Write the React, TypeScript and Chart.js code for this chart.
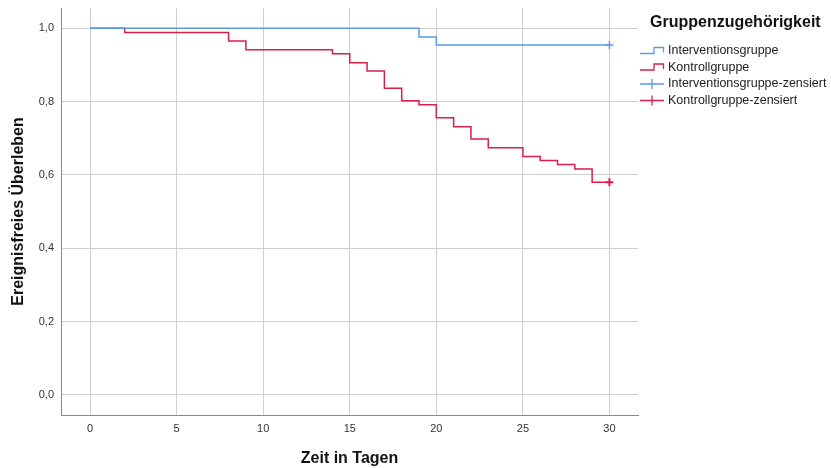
import React, { useEffect, useRef } from 'react';
import { Chart, registerables } from 'chart.js';

Chart.register(...registerables);

// ---- data ----
const kontrollDays = [0, 2, 8, 9, 14, 15, 16, 17, 18, 19, 20, 21, 22, 23, 25, 26, 27, 28, 29, 30];
const kontrollSurv = [1.0, 0.988, 0.965, 0.941, 0.93, 0.906, 0.883, 0.836, 0.802, 0.791, 0.756, 0.731, 0.698, 0.674, 0.65, 0.639, 0.628, 0.616, 0.58, 0.58];
const interventionDays = [0, 19, 20, 30];
const interventionSurv = [1.0, 0.976, 0.954, 0.954];
const censoredInterventionDays = [30];
const censoredInterventionSurv = [0.954];
const censoredKontrollDays = [30];
const censoredKontrollSurv = [0.58];
const xTickValues = [0, 5, 10, 15, 20, 25, 30];
const yTickValues = [0, 0.2, 0.4, 0.6, 0.8, 1.0];
const legendTitle = 'Gruppenzugehörigkeit';
const legendLabels = ['Interventionsgruppe', 'Kontrollgruppe', 'Interventionsgruppe-zensiert', 'Kontrollgruppe-zensiert'];
const xTitle = 'Zeit in Tagen';
const yTitle = 'Ereignisfreies Überleben';

const BLUE = '#5b9be6';
const RED = '#d81f4a';
const FONT = '"Liberation Sans", Arial, Helvetica, sans-serif';

const toPoints = (xs: number[], ys: number[]) => xs.map((x, i) => ({ x, y: ys[i] }));

const legendPlugin = {
  id: 'kmLegend',
  afterDraw(chart: any) {
    const ctx: CanvasRenderingContext2D = chart.ctx;
    const x0 = chart.chartArea.right + 2;
    ctx.save();
    ctx.fillStyle = '#111';
    ctx.textAlign = 'left';
    ctx.textBaseline = 'middle';
    ctx.font = `bold 16px ${FONT}`;
    ctx.fillText(legendTitle, x0 + 10, 23);

    const rows = [51, 67.5, 84, 100.5];
    const colors = [BLUE, RED, BLUE, RED];
    ctx.font = `12.5px ${FONT}`;
    legendLabels.forEach((lab, i) => {
      const y = rows[i];
      ctx.strokeStyle = colors[i];
      ctx.lineWidth = 1.3;
      ctx.beginPath();
      if (i < 2) {
        ctx.moveTo(x0, y + 2.5);
        ctx.lineTo(x0 + 14, y + 2.5);
        ctx.lineTo(x0 + 14, y - 3.5);
        ctx.lineTo(x0 + 23.5, y - 3.5);
        ctx.lineTo(x0 + 23.5, y + 1.5);
      } else {
        ctx.moveTo(x0, y);
        ctx.lineTo(x0 + 24, y);
        ctx.moveTo(x0 + 12, y - 5);
        ctx.lineTo(x0 + 12, y + 5);
      }
      ctx.stroke();
      ctx.fillStyle = '#222';
      ctx.fillText(lab, x0 + 28, y);
    });
    ctx.restore();
  },
};

export default function App() {
  const ref = useRef<HTMLCanvasElement | null>(null);

  useEffect(() => {
    if (!ref.current) return;
    const chart = new Chart(ref.current, {
      type: 'scatter',
      data: {
        datasets: [
          {
            label: legendLabels[0],
            data: toPoints(interventionDays, interventionSurv),
            showLine: true,
            stepped: 'before',
            borderColor: BLUE,
            borderWidth: 1.5,
            pointRadius: 0,
            fill: false,
          },
          {
            label: legendLabels[1],
            data: toPoints(kontrollDays, kontrollSurv),
            showLine: true,
            stepped: 'before',
            borderColor: RED,
            borderWidth: 1.5,
            pointRadius: 0,
            fill: false,
          },
          {
            label: legendLabels[2],
            data: toPoints(censoredInterventionDays, censoredInterventionSurv),
            showLine: false,
            pointStyle: 'cross',
            pointRadius: 4,
            borderColor: BLUE,
            backgroundColor: BLUE,
            pointBorderWidth: 1.5,
          },
          {
            label: legendLabels[3],
            data: toPoints(censoredKontrollDays, censoredKontrollSurv),
            showLine: false,
            pointStyle: 'cross',
            pointRadius: 4,
            borderColor: RED,
            backgroundColor: RED,
            pointBorderWidth: 2,
          },
        ],
      } as any,
      options: {
        animation: false,
        responsive: false,
        maintainAspectRatio: false,
        layout: { padding: { left: 0, right: 193, top: 8, bottom: 0 } },
        plugins: { legend: { display: false }, tooltip: { enabled: false } },
        scales: {
          x: {
            type: 'linear',
            min: -1.68,
            max: 31.65,
            afterBuildTicks: (s: any) => {
              s.ticks = xTickValues.map((v) => ({ value: v }));
            },
            afterFit: (s: any) => {
              s.height = 53;
              s.paddingLeft = 0;
              s.paddingRight = 0;
            },
            grid: { color: '#cfcfcf', lineWidth: 1, drawTicks: false },
            border: { display: true, color: '#8a8a8a', width: 1 },
            ticks: {
              padding: 7,
              color: '#333',
              font: { family: FONT, size: 11 },
              callback: (v: any) => String(v),
            },
            title: {
              display: true,
              text: xTitle,
              color: '#111',
              font: { family: FONT, size: 16, weight: 'bold' },
              padding: { top: 0, bottom: 0 },
            },
          },
          y: {
            type: 'linear',
            min: -0.055,
            max: 1.055,
            afterBuildTicks: (s: any) => {
              s.ticks = yTickValues.map((v) => ({ value: v }));
            },
            afterFit: (s: any) => {
              s.width = 61;
              s.paddingTop = 0;
              s.paddingBottom = 0;
            },
            grid: { color: '#cfcfcf', lineWidth: 1, drawTicks: false },
            border: { display: true, color: '#8a8a8a', width: 1 },
            ticks: {
              padding: 7,
              color: '#333',
              font: { family: FONT, size: 11 },
              callback: (v: any) => Number(v).toFixed(1).replace('.', ','),
            },
            title: {
              display: true,
              text: yTitle,
              color: '#111',
              font: { family: FONT, size: 16, weight: 'bold' },
              padding: { top: 9, bottom: 0 },
            },
          },
        },
      } as any,
      plugins: [legendPlugin],
    });
    return () => chart.destroy();
  }, []);

  return (
    <div style={{ position: 'absolute', left: 0, top: 0, width: 831, height: 468, background: '#fff' }}>
      <canvas ref={ref} width={831} height={468} style={{ width: 831, height: 468, display: 'block' }} />
    </div>
  );
}
